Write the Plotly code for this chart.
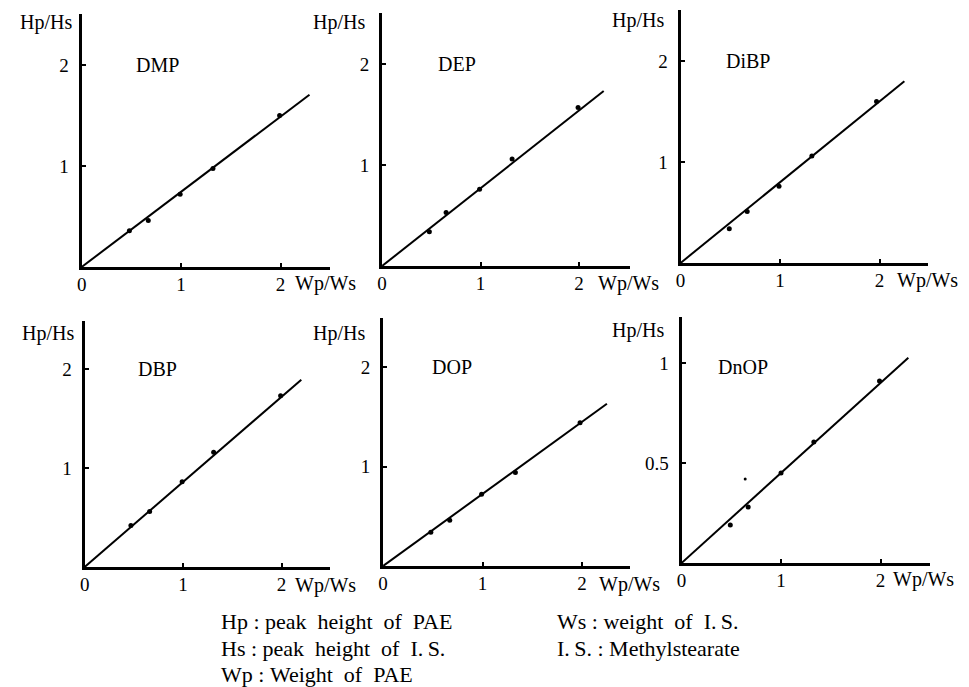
import plotly.graph_objects as go

# ---------------- data ----------------
panel_names = ["DMP", "DEP", "DiBP", "DBP", "DOP", "DnOP"]

dmp_x = [0.48, 0.67, 0.99, 1.32, 1.99]
dmp_y = [0.36, 0.46, 0.72, 0.975, 1.50]
dep_x = [0.48, 0.65, 0.99, 1.32, 1.99]
dep_y = [0.34, 0.53, 0.76, 1.06, 1.57]
dibp_x = [0.49, 0.67, 0.99, 1.32, 1.97]
dibp_y = [0.34, 0.51, 0.76, 1.06, 1.60]
dbp_x = [0.47, 0.66, 0.99, 1.31, 1.99]
dbp_y = [0.42, 0.56, 0.86, 1.16, 1.73]
dop_x = [0.48, 0.67, 0.99, 1.33, 1.98]
dop_y = [0.34, 0.46, 0.72, 0.94, 1.44]
dnop_x = [0.49, 0.67, 1.00, 1.33, 1.99]
dnop_y = [0.19, 0.28, 0.45, 0.605, 0.91]
dnop_stray_x = [0.64]
dnop_stray_y = [0.42]

fit_slopes = [0.745, 0.77, 0.80, 0.86, 0.725, 0.45]
fit_x_end = [2.29, 2.25, 2.25, 2.20, 2.25, 2.28]

x_tickvals = [0, 1, 2]
x_ticktext = ["0", "1", "2"]
y_tickvals_std = [1, 2]
y_ticktext_std = ["1", "2"]
y_tickvals_dnop = [0.5, 1]
y_ticktext_dnop = ["0.5", "1"]

x_title = "Wp/Ws"
y_title = "Hp/Hs"
NB = "\u00a0"
G = NB * 2
notes_left = ["Hp" + NB + ":" + NB + "peak" + G + "height" + G + "of" + G + "PAE",
              "Hs" + NB + ":" + NB + "peak" + G + "height" + G + "of" + G + "I.\u2009S.",
              "Wp" + NB + ":" + NB + "Weight" + G + "of" + G + "PAE"]
notes_right = ["Ws" + NB + ":" + NB + "weight" + G + "of" + G + "I.\u2009S.",
               "I.\u2009S." + NB + ":" + NB + "Methylstearate"]

series_x = [dmp_x, dep_x, dibp_x, dbp_x, dop_x, dnop_x]
series_y = [dmp_y, dep_y, dibp_y, dbp_y, dop_y, dnop_y]

# ---------------- layout geometry (window pixels) ----------------
W, H = 969, 687
OFF = 8  # default page body margin
FONT = "Liberation Serif"
geo = [
    dict(x0=77, x1=327, ytop=14, y0=267, sx=100, sy=101, lab=(0.76, 2.0), hp=(69, 22), wp=(289, 283)),
    dict(x0=379, x1=628, ytop=13, y0=266, sx=99, sy=101, lab=(0.76, 2.0), hp=(364, 22), wp=(594, 283)),
    dict(x0=679, x1=928, ytop=10, y0=263, sx=100, sy=101, lab=(0.68, 2.0), hp=(664, 20), wp=(895, 281)),
    dict(x0=80, x1=327, ytop=321, y0=567, sx=99, sy=99, lab=(0.74, 2.0), hp=(71, 333), wp=(289, 585)),
    dict(x0=380, x1=628, ytop=318, y0=566, sx=100, sy=99.5, lab=(0.69, 2.0), hp=(364, 333), wp=(595, 584)),
    dict(x0=680, x1=930, ytop=317, y0=563, sx=100, sy=200, lab=(0.62, 0.98), hp=(664, 331), wp=(891, 579)),
]


def px(x):
    return (x - OFF) / W


def py(y):
    return 1 - (y - OFF) / H


fig = go.Figure()
annotations = []
layout_axes = {}

for i, g in enumerate(geo):
    n = i + 1
    xa = "x" if n == 1 else f"x{n}"
    ya = "y" if n == 1 else f"y{n}"
    xkey = "xaxis" if n == 1 else f"xaxis{n}"
    ykey = "yaxis" if n == 1 else f"yaxis{n}"

    xmax = (g["x1"] - g["x0"]) / g["sx"]
    ymax = (g["y0"] - g["ytop"]) / g["sy"]

    xe = fit_x_end[i]
    fig.add_trace(go.Scatter(
        x=[0, xe], y=[0, fit_slopes[i] * xe], mode="lines",
        line=dict(color="black", width=2), xaxis=xa, yaxis=ya,
        showlegend=False, hoverinfo="skip", cliponaxis=False))
    fig.add_trace(go.Scatter(
        x=series_x[i], y=series_y[i], mode="markers",
        marker=dict(color="black", size=5), xaxis=xa, yaxis=ya,
        showlegend=False, cliponaxis=False, name=panel_names[i]))
    if panel_names[i] == "DnOP":
        fig.add_trace(go.Scatter(
            x=dnop_stray_x, y=dnop_stray_y, mode="markers",
            marker=dict(color="black", size=3), xaxis=xa, yaxis=ya,
            showlegend=False, cliponaxis=False))
        ytv, ytt = y_tickvals_dnop, y_ticktext_dnop
    else:
        ytv, ytt = y_tickvals_std, y_ticktext_std

    layout_axes[xkey] = dict(
        domain=[px(g["x0"]), px(g["x1"])], range=[0, xmax], anchor=ya,
        showline=True, linewidth=3, linecolor="black", showgrid=False,
        zeroline=False, tickvals=x_tickvals, ticktext=x_ticktext,
        ticks="inside", ticklen=4, tickwidth=1.5, tickcolor="black",
        tickfont=dict(family=FONT, size=19, color="black"),
        ticklabelstandoff=-2, fixedrange=True)
    layout_axes[ykey] = dict(
        domain=[py(g["y0"]), py(g["ytop"])], range=[0, ymax], anchor=xa,
        showline=True, linewidth=3, linecolor="black", showgrid=False,
        zeroline=False, tickvals=ytv, ticktext=ytt,
        ticks="inside", ticklen=4, tickwidth=1.5, tickcolor="black",
        tickfont=dict(family=FONT, size=19, color="black"),
        ticklabelstandoff=6, fixedrange=True)

    annotations.append(dict(
        x=g["lab"][0], y=g["lab"][1], xref=xa, yref=ya, text=panel_names[i],
        showarrow=False, xanchor="center", yanchor="middle",
        font=dict(family=FONT, size=20, color="black")))
    annotations.append(dict(
        x=px(g["hp"][0]), y=py(g["hp"][1]), xref="paper", yref="paper",
        text=y_title, showarrow=False, xanchor="right", yanchor="middle",
        font=dict(family=FONT, size=20, color="black")))
    annotations.append(dict(
        x=px(g["wp"][0]), y=py(g["wp"][1]), xref="paper", yref="paper",
        text=x_title, showarrow=False, xanchor="left", yanchor="middle",
        font=dict(family=FONT, size=20, color="black")))

note_rows = [621, 648, 674]
for k, t in enumerate(notes_left):
    annotations.append(dict(
        x=px(215), y=py(note_rows[k]), xref="paper", yref="paper", text=t,
        showarrow=False, xanchor="left", yanchor="middle",
        font=dict(family=FONT, size=22, color="black")))
for k, t in enumerate(notes_right):
    annotations.append(dict(
        x=px(553), y=py(note_rows[k]), xref="paper", yref="paper", text=t,
        showarrow=False, xanchor="left", yanchor="middle",
        font=dict(family=FONT, size=22, color="black")))

fig.update_layout(
    width=W, height=H, margin=dict(l=0, r=0, t=0, b=0),
    paper_bgcolor="white", plot_bgcolor="white",
    showlegend=False, annotations=annotations, **layout_axes)

fig.write_html("out.html")
